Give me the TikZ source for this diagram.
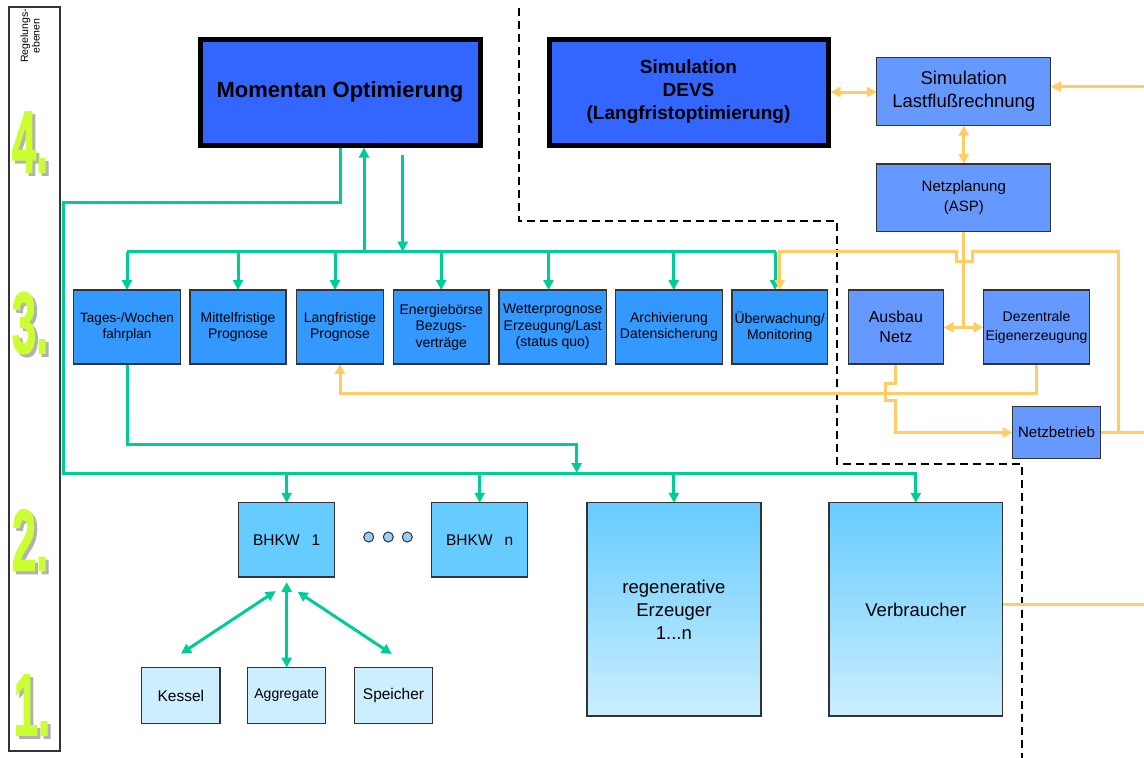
\documentclass[tikz,border=0pt]{standalone}
\usepackage{fontspec}
\usepackage{graphicx}
\setmainfont{Liberation Sans}
\newfontfamily\numfont[FakeBold=2]{Liberation Sans}
\usetikzlibrary{arrows.meta,backgrounds}
\definecolor{gruen}{HTML}{00CC99}
\definecolor{orang}{HTML}{FFCC66}
\definecolor{dblue}{HTML}{3366FF}
\definecolor{mblue}{HTML}{6699FF}
\definecolor{lblue}{HTML}{3399FF}
\definecolor{sblue}{HTML}{66CCFF}
\definecolor{pblue}{HTML}{CCEEFF}
\definecolor{dotblue}{HTML}{99CCFF}
\definecolor{limey}{HTML}{CCFF33}
\definecolor{bord}{HTML}{333333}
\newcommand\lvlnum[1]{\scalebox{0.5}[1]{\fontsize{87pt}{87pt}\numfont\bfseries #1}}
\begin{document}
\begin{tikzpicture}[x=1pt,y=-1pt,
  base/.style={draw=bord,line width=1.2pt,inner sep=0pt,outer sep=0pt,align=center,text=black},
  bigbox/.style={base,draw=black,line width=5pt,fill=dblue,minimum height=106pt},
  netbox/.style={base,fill=mblue},
  lvlbox/.style={base,fill=lblue,minimum height=74pt,font=\fontsize{14pt}{16.5pt}\selectfont},
  bhkwbox/.style={base,fill=sblue,minimum width=96pt,minimum height=74.3pt,font=\fontsize{15.5pt}{18pt}\selectfont},
  gradbox/.style={base,top color=sblue,bottom color=pblue,minimum width=174pt,minimum height=213.3pt,font=\fontsize{18.5pt}{23pt}\selectfont},
  smallbox/.style={base,fill=pblue,minimum width=78.3pt,minimum height=55.6pt,font=\fontsize{15.5pt}{18pt}\selectfont},
  tipT/.tip={Triangle[length=10pt,width=10pt]},
  gline/.style={draw=gruen,line width=3pt},
  garrow/.style={gline,-tipT},
  gdarrow/.style={gline,tipT-tipT},
  oline/.style={draw=orang,line width=3pt},
  oarrow/.style={oline,-tipT},
  odarrow/.style={oline,tipT-tipT},
  dotc/.style={circle,draw=bord,fill=dotblue,minimum size=10pt,inner sep=0pt,line width=1pt},
  numsh/.style={text=black!30,inner sep=0pt},
  numfg/.style={text=limey,inner sep=0pt}
]
\useasboundingbox (0,0) rectangle (1144,758);

% left frame with levels
\draw[bord,line width=1.2pt] (9,7) rectangle (60,751);
\node[rotate=90,align=center,inner sep=0pt,font=\fontsize{10.5pt}{11.5pt}\selectfont] (rl) at (30,36) {Regelungs-\\ebenen};
\node[numsh] (n4s) at (33,145) {\lvlnum{4.}};
\node[numfg] (n4) at (30,142) {\lvlnum{4.}};
\node[numsh] (n3s) at (33,326) {\lvlnum{3.}};
\node[numfg] (n3) at (30,323) {\lvlnum{3.}};
\node[numsh] (n2s) at (33,543) {\lvlnum{2.}};
\node[numfg] (n2) at (30,540) {\lvlnum{2.}};
\node[numsh] (n1s) at (35,708) {\lvlnum{1.}};
\node[numfg] (n1) at (32,705) {\lvlnum{1.}};

% level 4
\node[bigbox,minimum width=280pt,font=\fontsize{22pt}{26pt}\selectfont\bfseries] (mom) at (340,92) {Momentan Optimierung};
\node[bigbox,minimum width=279pt,font=\fontsize{19pt}{23pt}\selectfont\bfseries] (devs) at (688.5,92) {Simulation\\DEVS\\(Langfristoptimierung)};
\node[netbox,minimum width=174pt,minimum height=68pt,font=\fontsize{18.5pt}{23pt}\selectfont] (lastfl) at (963.8,91.7) {Simulation\\Lastflußrechnung};
\node[netbox,minimum width=174pt,minimum height=67.5pt,font=\fontsize{15pt}{20pt}\selectfont] (netzpl) at (963.8,197.8) {Netzplanung\\(ASP)};

% level 3
\node[lvlbox,minimum width=107.4pt,font=\fontsize{13.5pt}{16.5pt}\selectfont] (tages) at (127,327) {Tages-/Wochen\\fahrplan};
\node[lvlbox,minimum width=96pt] (mittel) at (238,327) {Mittelfristige\\Prognose};
\node[lvlbox,minimum width=86.6pt] (lang) at (340,327) {Langfristige\\Prognose};
\node[lvlbox,minimum width=95.7pt] (energie) at (441.2,327) {Energiebörse\\Bezugs-\\verträge};
\node[lvlbox,minimum width=107.5pt] (wetter) at (552.7,327) {Wetterprognose\\Erzeugung/Last\\(status quo)};
\node[lvlbox,minimum width=106.4pt] (archiv) at (669,327) {Archivierung\\Datensicherung};
\node[lvlbox,minimum width=95.3pt] (ueber) at (779.7,327) {Überwachung/\\Monitoring};
\node[netbox,minimum width=95.2pt,minimum height=74pt,font=\fontsize{16pt}{20pt}\selectfont] (ausbau) at (895.9,327) {Ausbau\\Netz};
\node[netbox,minimum width=106.3pt,minimum height=74pt,font=\fontsize{14pt}{19pt}\selectfont] (dezent) at (1036.5,327) {Dezentrale\\Eigenerzeugung};
\node[netbox,minimum width=88pt,minimum height=51.6pt,font=\fontsize{15pt}{18pt}\selectfont] (netzbetr) at (1056.5,432.5) {Netzbetrieb};

% level 2
\node[bhkwbox] (bhkw1) at (286.7,539.9) {BHKW\hspace{12pt}1};
\node[bhkwbox] (bhkwn) at (479.7,539.9) {BHKW\hspace{12pt}n};
\node[dotc] (dot1) at (368.7,537) {};
\node[dotc] (dot2) at (388.3,537) {};
\node[dotc] (dot3) at (407.3,537) {};
\node[gradbox] (regen) at (673.9,609.4) {regenerative\\Erzeuger\\1...n};
\node[gradbox,minimum width=173.5pt] (verbr) at (915.8,609.4) {Verbraucher};

% level 1
\node[smallbox] (kessel) at (180.9,695.5) {Kessel};
\node[smallbox,font=\fontsize{14pt}{17pt}\selectfont] (aggr) at (286.7,695.5) {Aggregate};
\node[smallbox] (speich) at (393.5,695.5) {Speicher};

\begin{scope}[on background layer]
% dashed separation
\draw[black,line width=2pt,dash pattern=on 8pt off 5pt] (518.5,8) -- (518.5,221) -- (836.8,221) -- (836.8,464) -- (1021.8,464) -- (1021.8,758);

% green connectors
\coordinate (gA) at (63.6,202.7);
\coordinate (gB) at (63.6,473);
\draw[garrow] (mom.south) |- (gA) -- (gB) -| (verbr.north);
\draw[garrow] (bhkw1.north |- gB) -- (bhkw1.north);
\draw[garrow] (bhkwn.north |- gB) -- (bhkwn.north);
\draw[garrow] (regen.north |- gB) -- (regen.north);
\coordinate (gT) at (576.7,444.5);
\draw[garrow] (tages.south) |- (gT) -- (gT |- gB);

\coordinate (b3L) at (127,251.7);
\coordinate (b3R) at (776,251.7);
\draw[gline] (b3L) -- (b3R);
\coordinate (aLang) at ([xshift=-5pt]lang.north);
\coordinate (aWet) at ([xshift=-4.2pt]wetter.north);
\coordinate (aArc) at ([xshift=4.7pt]archiv.north);
\coordinate (aUeb) at ([xshift=-4.7pt]ueber.north);
\draw[garrow] (tages.north |- b3L) -- (tages.north);
\draw[garrow] (mittel.north |- b3L) -- (mittel.north);
\draw[garrow] (aLang |- b3L) -- (aLang);
\draw[garrow] (energie.north |- b3L) -- (energie.north);
\draw[garrow] (aWet |- b3L) -- (aWet);
\draw[garrow] (aArc |- b3L) -- (aArc);
\draw[garrow] (aUeb |- b3L) -- (aUeb);
\coordinate (up1) at (364,251.7);
\draw[garrow] (up1) -- ([yshift=-2.5pt]up1 |- mom.south);
\coordinate (dn1) at (402.7,155);
\draw[garrow] (dn1) -- (dn1 |- b3L);

\draw[gdarrow] ([shift={(-11pt,-14pt)}]bhkw1.south) -- ([yshift=14pt]kessel.north);
\draw[gdarrow] ([yshift=-5pt]bhkw1.south) -- (aggr.north);
\draw[gdarrow] ([shift={(11pt,-14.7pt)}]bhkw1.south) -- ([shift={(-1.8pt,13.7pt)}]speich.north);

% orange connectors
\draw[odarrow] ([xshift=2.5pt]devs.east) -- (devs.east -| lastfl.west);
\coordinate (oIn) at (1144,86.7);
\draw[oarrow] (oIn) -- (oIn -| lastfl.east);
\draw[odarrow] (lastfl.south) -- (netzpl.north);
\coordinate (oJ) at (963.8,327.3);
\draw[oline] (netzpl.south) -- (oJ);
\draw[oarrow] (oJ) -- (oJ -| ausbau.east);
\draw[oarrow] (oJ) -- (oJ -| dezent.west);
\coordinate (oV) at (1118,432);
\coordinate (oOut) at (1144,432);
\coordinate (oC) at (1118,251.7);
\draw[oline] (netzbetr.east |- oV) -- (oOut);
\draw[oarrow] (oV) -- (oC) -- ++(-145.3,0) -- ++(0,10) -- ++(-16,0) -- ++(0,-10) -| (ueber.north);
\draw[oarrow] (dezent.south) -- ++(0,29.3) -| (lang.south);
\draw[oarrow] (ausbau.south) -- ++(0,19) -- ++(-10,0) -- ++(0,17) -- ++(10,0) |- (netzbetr.west);
\coordinate (oOut2) at (1144,604.3);
\draw[oline] (verbr.east |- oOut2) -- (oOut2);
\end{scope}
\end{tikzpicture}
\end{document}
